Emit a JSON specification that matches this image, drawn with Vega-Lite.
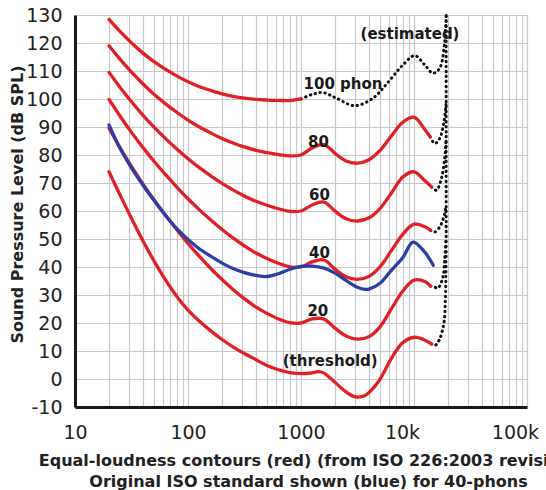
{
  "$schema": "https://vega.github.io/schema/vega-lite/v6.json",
  "width": 452,
  "height": 392,
  "autosize": {"type": "none"},
  "padding": {"left": 75, "top": 15, "right": 19, "bottom": 83},
  "background": "white",
  "config": {"view": {"stroke": null}, "font": "DejaVu Sans"},
  "datasets": {
    "curves": [
      {"s":"r100","f":20,"db":128.41},{"s":"r100","f":25,"db":124.15},{"s":"r100","f":31.5,"db":120.11},{"s":"r100","f":40,"db":116.38},{"s":"r100","f":50,"db":113.35},{"s":"r100","f":63,"db":110.65},{"s":"r100","f":80,"db":108.16},{"s":"r100","f":100,"db":106.17},{"s":"r100","f":125,"db":104.48},{"s":"r100","f":160,"db":103.03},{"s":"r100","f":200,"db":101.85},{"s":"r100","f":250,"db":100.97},{"s":"r100","f":315,"db":100.3},{"s":"r100","f":400,"db":99.83},{"s":"r100","f":500,"db":99.62},{"s":"r100","f":630,"db":99.5},{"s":"r100","f":800,"db":99.44},{"s":"r100","f":1000,"db":100.01},

      {"s":"r80","f":20,"db":118.99},{"s":"r80","f":25,"db":114.23},{"s":"r80","f":31.5,"db":109.65},{"s":"r80","f":40,"db":105.34},{"s":"r80","f":50,"db":101.72},{"s":"r80","f":63,"db":98.36},{"s":"r80","f":80,"db":95.17},{"s":"r80","f":100,"db":92.48},{"s":"r80","f":125,"db":90.09},{"s":"r80","f":160,"db":87.82},{"s":"r80","f":200,"db":85.92},{"s":"r80","f":250,"db":84.31},{"s":"r80","f":315,"db":82.89},{"s":"r80","f":400,"db":81.68},{"s":"r80","f":500,"db":80.86},{"s":"r80","f":630,"db":80.17},{"s":"r80","f":800,"db":79.67},{"s":"r80","f":1000,"db":80.01},{"s":"r80","f":1250,"db":82.48},{"s":"r80","f":1600,"db":83.74},{"s":"r80","f":2000,"db":80.59},{"s":"r80","f":2500,"db":77.88},{"s":"r80","f":3150,"db":77.07},{"s":"r80","f":4000,"db":78.31},{"s":"r80","f":5000,"db":81.62},{"s":"r80","f":6300,"db":86.81},{"s":"r80","f":8000,"db":91.8},{"s":"r80","f":10000,"db":93.5},{"s":"r80","f":12500,"db":89.0},{"s":"r80","f":13900,"db":86.5},

      {"s":"r60","f":20,"db":109.51},{"s":"r60","f":25,"db":104.23},{"s":"r60","f":31.5,"db":99.08},{"s":"r60","f":40,"db":94.18},{"s":"r60","f":50,"db":89.96},{"s":"r60","f":63,"db":85.94},{"s":"r60","f":80,"db":82.05},{"s":"r60","f":100,"db":78.65},{"s":"r60","f":125,"db":75.56},{"s":"r60","f":160,"db":72.47},{"s":"r60","f":200,"db":69.86},{"s":"r60","f":250,"db":67.53},{"s":"r60","f":315,"db":65.39},{"s":"r60","f":400,"db":63.45},{"s":"r60","f":500,"db":62.05},{"s":"r60","f":630,"db":60.81},{"s":"r60","f":800,"db":59.89},{"s":"r60","f":1000,"db":60.01},{"s":"r60","f":1250,"db":62.15},{"s":"r60","f":1600,"db":63.19},{"s":"r60","f":2000,"db":59.96},{"s":"r60","f":2500,"db":57.25},{"s":"r60","f":3150,"db":56.42},{"s":"r60","f":4000,"db":57.57},{"s":"r60","f":5000,"db":60.89},{"s":"r60","f":6300,"db":66.36},{"s":"r60","f":8000,"db":72.2},{"s":"r60","f":10000,"db":74.0},{"s":"r60","f":12500,"db":70.8},{"s":"r60","f":14300,"db":68.6},

      {"s":"r40","f":20,"db":99.85},{"s":"r40","f":25,"db":93.94},{"s":"r40","f":31.5,"db":88.17},{"s":"r40","f":40,"db":82.63},{"s":"r40","f":50,"db":77.78},{"s":"r40","f":63,"db":73.08},{"s":"r40","f":80,"db":68.48},{"s":"r40","f":100,"db":64.37},{"s":"r40","f":125,"db":60.59},{"s":"r40","f":160,"db":56.7},{"s":"r40","f":200,"db":53.41},{"s":"r40","f":250,"db":50.4},{"s":"r40","f":315,"db":47.58},{"s":"r40","f":400,"db":44.98},{"s":"r40","f":500,"db":43.05},{"s":"r40","f":630,"db":41.34},{"s":"r40","f":800,"db":40.06},{"s":"r40","f":1000,"db":40.01},{"s":"r40","f":1250,"db":41.82},{"s":"r40","f":1600,"db":42.51},{"s":"r40","f":2000,"db":39.23},{"s":"r40","f":2500,"db":36.51},{"s":"r40","f":3150,"db":35.61},{"s":"r40","f":4000,"db":36.65},{"s":"r40","f":5000,"db":40.01},{"s":"r40","f":6300,"db":45.83},{"s":"r40","f":8000,"db":51.8},{"s":"r40","f":10000,"db":55.3},{"s":"r40","f":12500,"db":54.4},{"s":"r40","f":14000,"db":53.1},

      {"s":"r20","f":20,"db":89.58},{"s":"r20","f":25,"db":82.65},{"s":"r20","f":31.5,"db":75.98},{"s":"r20","f":40,"db":69.62},{"s":"r20","f":50,"db":64.02},{"s":"r20","f":63,"db":58.55},{"s":"r20","f":80,"db":53.19},{"s":"r20","f":100,"db":48.38},{"s":"r20","f":125,"db":43.94},{"s":"r20","f":160,"db":39.37},{"s":"r20","f":200,"db":35.51},{"s":"r20","f":250,"db":31.99},{"s":"r20","f":315,"db":28.69},{"s":"r20","f":400,"db":25.67},{"s":"r20","f":500,"db":23.43},{"s":"r20","f":630,"db":21.48},{"s":"r20","f":800,"db":20.1},{"s":"r20","f":1000,"db":20.0},{"s":"r20","f":1250,"db":21.46},{"s":"r20","f":1600,"db":21.4},{"s":"r20","f":2000,"db":18.15},{"s":"r20","f":2500,"db":15.38},{"s":"r20","f":3150,"db":14.25},{"s":"r20","f":4000,"db":15.14},{"s":"r20","f":5000,"db":18.63},{"s":"r20","f":6300,"db":25.02},{"s":"r20","f":8000,"db":31.5},{"s":"r20","f":10000,"db":35.3},{"s":"r20","f":12500,"db":34.8},{"s":"r20","f":14000,"db":33.2},

      {"s":"rth","f":20,"db":74.0},{"s":"rth","f":25,"db":65.8},{"s":"rth","f":31.5,"db":57.5},{"s":"rth","f":40,"db":49.3},{"s":"rth","f":50,"db":42.2},{"s":"rth","f":63,"db":35.5},{"s":"rth","f":80,"db":29.4},{"s":"rth","f":100,"db":24.6},{"s":"rth","f":125,"db":20.8},{"s":"rth","f":160,"db":17.1},{"s":"rth","f":200,"db":14.1},{"s":"rth","f":250,"db":11.5},{"s":"rth","f":315,"db":9.1},{"s":"rth","f":400,"db":6.9},{"s":"rth","f":500,"db":4.8},{"s":"rth","f":630,"db":3.3},{"s":"rth","f":800,"db":2.3},{"s":"rth","f":1000,"db":1.9},{"s":"rth","f":1250,"db":2.2},{"s":"rth","f":1420,"db":2.6},{"s":"rth","f":1600,"db":2.1},{"s":"rth","f":1855,"db":0.0},{"s":"rth","f":2430,"db":-4.2},{"s":"rth","f":2980,"db":-6.3},{"s":"rth","f":3650,"db":-6.0},{"s":"rth","f":4800,"db":-1.2},{"s":"rth","f":6280,"db":7.2},{"s":"rth","f":8000,"db":13.1},{"s":"rth","f":10500,"db":14.9},{"s":"rth","f":14300,"db":12.5},

      {"s":"blue","f":20,"db":90.7},{"s":"blue","f":25,"db":82.4},{"s":"blue","f":31.5,"db":75.5},{"s":"blue","f":40,"db":69.2},{"s":"blue","f":50,"db":63.8},{"s":"blue","f":63,"db":58.5},{"s":"blue","f":80,"db":53.6},{"s":"blue","f":100,"db":49.8},{"s":"blue","f":125,"db":46.6},{"s":"blue","f":160,"db":43.8},{"s":"blue","f":200,"db":41.4},{"s":"blue","f":250,"db":39.5},{"s":"blue","f":315,"db":38.0},{"s":"blue","f":400,"db":37.0},{"s":"blue","f":500,"db":36.6},{"s":"blue","f":630,"db":37.6},{"s":"blue","f":800,"db":39.2},{"s":"blue","f":1000,"db":40.2},{"s":"blue","f":1250,"db":40.3},{"s":"blue","f":1600,"db":39.6},{"s":"blue","f":2000,"db":37.8},{"s":"blue","f":2500,"db":35.2},{"s":"blue","f":3150,"db":32.8},{"s":"blue","f":3700,"db":32.0},{"s":"blue","f":4000,"db":32.1},{"s":"blue","f":5000,"db":34.2},{"s":"blue","f":6300,"db":38.8},{"s":"blue","f":8000,"db":43.5},{"s":"blue","f":9800,"db":48.9},{"s":"blue","f":12400,"db":45.4},{"s":"blue","f":14800,"db":40.6},

      {"s":"d100","i":1,"f":1000,"db":100.0},{"s":"d100","i":2,"f":1250,"db":101.6},{"s":"d100","i":3,"f":1565,"db":102.3},{"s":"d100","i":4,"f":2057,"db":100.3},{"s":"d100","i":5,"f":2987,"db":97.6},{"s":"d100","i":6,"f":4337,"db":100.3},{"s":"d100","i":7,"f":5698,"db":105.3},{"s":"d100","i":8,"f":7991,"db":112.2},{"s":"d100","i":9,"f":10144,"db":115.5},{"s":"d100","i":10,"f":12435,"db":112.2},{"s":"d100","i":11,"f":14730,"db":109.2},{"s":"d100","i":12,"f":16882,"db":111.0},{"s":"d100","i":13,"f":18696,"db":120.5},{"s":"d100","i":14,"f":19300,"db":130},

      {"s":"dth","i":1,"f":14300,"db":12.5},{"s":"dth","i":2,"f":15250,"db":11.9},{"s":"dth","i":3,"f":16880,"db":14.3},{"s":"dth","i":4,"f":18430,"db":20.3},{"s":"dth","i":5,"f":18960,"db":28.6},{"s":"dth","i":6,"f":19200,"db":40},{"s":"dth","i":7,"f":19250,"db":80},{"s":"dth","i":8,"f":19250,"db":130},

      {"s":"d80","i":1,"f":13900,"db":86.5},{"s":"d80","i":2,"f":15250,"db":84.1},{"s":"d80","i":3,"f":16880,"db":85.9},{"s":"d80","i":4,"f":18430,"db":91.9},{"s":"d80","i":5,"f":19200,"db":98},
      {"s":"d60","i":1,"f":14300,"db":68.6},{"s":"d60","i":2,"f":15780,"db":67.4},{"s":"d60","i":3,"f":17480,"db":71.6},{"s":"d60","i":4,"f":18700,"db":78.8},{"s":"d60","i":5,"f":19200,"db":85},
      {"s":"d40","i":1,"f":14000,"db":53.1},{"s":"d40","i":2,"f":15250,"db":52.5},{"s":"d40","i":3,"f":16880,"db":54.3},{"s":"d40","i":4,"f":18050,"db":57.0},{"s":"d40","i":5,"f":18700,"db":59.1},{"s":"d40","i":6,"f":19200,"db":62},
      {"s":"d20","i":1,"f":14000,"db":33.2},{"s":"d20","i":2,"f":15250,"db":32.8},{"s":"d20","i":3,"f":16310,"db":32.5},{"s":"d20","i":4,"f":18050,"db":36.4},{"s":"d20","i":5,"f":18700,"db":43.0},{"s":"d20","i":6,"f":19200,"db":50}
    ],
    "labels": [
      {"t":"100 phon","f":2353,"db":105.3},
      {"t":"(estimated)","f":9218,"db":123.2},
      {"t":"80","f":1426,"db":84.7},
      {"t":"60","f":1455,"db":65.6},
      {"t":"40","f":1455,"db":45.0},
      {"t":"20","f":1410,"db":24.2},
      {"t":"(threshold)","f":1813,"db":6.6}
    ]
  },
  "encoding": {
    "x": {
      "field": "f", "type": "quantitative",
      "scale": {"type": "log", "domain": [10, 100000]},
      "axis": {
        "values": [10,20,30,40,50,60,70,80,90,100,200,300,400,500,600,700,800,900,1000,2000,3000,4000,5000,6000,7000,8000,9000,10000,20000,30000,40000,50000,60000,70000,80000,90000,100000],
        "labelExpr": "datum.value==10?'10':datum.value==100?'100':datum.value==1000?'1000':datum.value==10000?'10k':datum.value==100000?'100k':''",
        "labelOverlap": false, "labelBound": false, "labelFlush": false,
        "labelFont": "DejaVu Sans", "labelFontSize": 19, "labelColor": "#222222", "labelPadding": 16,
        "labelOffset": {"condition": {"test": "datum.value >= 10000", "value": -12}, "value": 0},
        "ticks": false, "grid": true, "gridColor": "#c9c9cd", "gridWidth": 1.2,
        "domainColor": "#1a1a1a", "domainWidth": 3,
        "title": ["Equal-loudness contours (red) (from ISO 226:2003 revision)", "Original ISO standard shown (blue) for 40-phons"],
        "titleFont": "DejaVu Sans", "titleFontSize": 16, "titleFontWeight": "bold", "titleColor": "#222222",
        "titleX": 233, "titleY": 58, "titleAlign": "center", "titleBaseline": "alphabetic", "titleLineHeight": 21.5
      }
    },
    "y": {
      "field": "db", "type": "quantitative",
      "scale": {"domain": [-10, 130], "nice": false, "zero": false},
      "axis": {
        "values": [-10,0,10,20,30,40,50,60,70,80,90,100,110,120,130],
        "labelExpr": "replace(datum.label, '\u2212', '-')",
        "labelFont": "DejaVu Sans", "labelFontSize": 19, "labelColor": "#222222", "labelPadding": 13,
        "ticks": false, "grid": true, "gridColor": "#c9c9cd", "gridWidth": 1.2,
        "domainColor": "#1a1a1a", "domainWidth": 3,
        "title": "Sound Pressure Level (dB SPL)",
        "titleFont": "DejaVu Sans", "titleFontSize": 16, "titleFontWeight": "bold", "titleColor": "#222222",
        "titleX": -58, "titleY": 189, "titleAngle": -90, "titleAlign": "center", "titleBaseline": "middle"
      }
    }
  },
  "layer": [
    {
      "data": {"name": "curves"},
      "transform": [{"filter": {"field": "s", "oneOf": ["d100","dth","d80","d60","d40","d20"]}}],
      "mark": {"type": "line", "color": "#111111", "strokeWidth": 3, "strokeDash": [0.5, 4.5], "strokeCap": "round", "interpolate": "catmull-rom"},
      "encoding": {"detail": {"field": "s"}, "order": {"field": "i", "type": "quantitative"}}
    },
    {
      "data": {"name": "curves"},
      "transform": [{"filter": {"field": "s", "oneOf": ["r100","r80","r60","r40","r20","rth"]}}],
      "mark": {"type": "line", "color": "#e31f26", "strokeWidth": 3.3, "strokeCap": "round", "interpolate": "catmull-rom"},
      "encoding": {"detail": {"field": "s"}}
    },
    {
      "data": {"name": "curves"},
      "transform": [{"filter": {"field": "s", "equal": "blue"}}],
      "mark": {"type": "line", "color": "#2d3fa6", "strokeWidth": 3.3, "strokeCap": "round", "interpolate": "catmull-rom"},
      "encoding": {}
    },
    {
      "data": {"name": "labels"},
      "mark": {"type": "text", "font": "DejaVu Sans", "fontSize": 15, "fontWeight": "bold", "color": "#1a1a1a", "align": "center", "baseline": "middle"},
      "encoding": {"text": {"field": "t"}}
    }
  ]
}
